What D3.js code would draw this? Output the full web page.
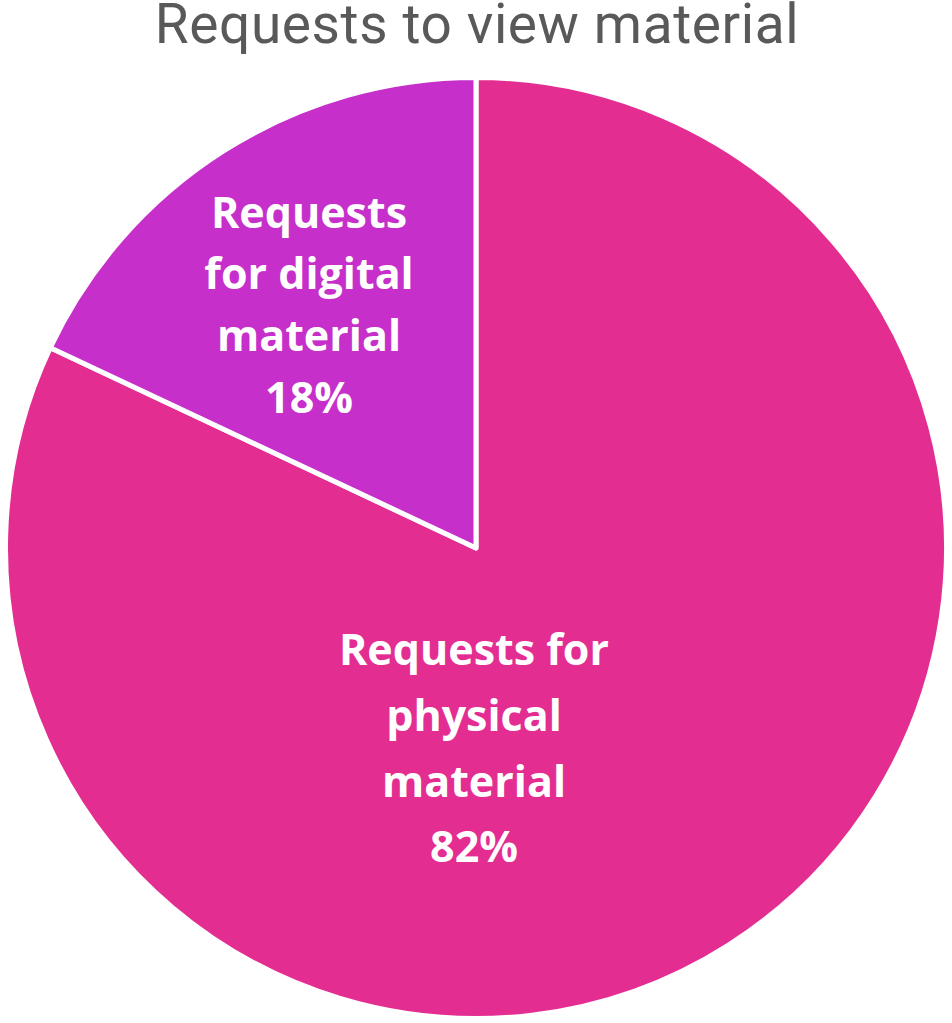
<!DOCTYPE html>
<html><head><meta charset="utf-8">
<script src="https://cdn.jsdelivr.net/npm/d3@7"></script>
<style>body{margin:0;background:#fff}svg{display:block}</style>
</head><body>
<svg id="c" width="952" height="1023"></svg>
<script>
const title = "Requests to view material";
const categories = ["Requests for physical material", "Requests for digital material"];
const values = [82, 18];
const labelLines = [["Requests for","physical","material","82%"],["Requests","for digital","material","18%"]];
const colors = ["#E32D91", "#C62FCA"];

const svg = d3.select("#c");
const cx = 476, cy = 548, R = 470.5;
svg.append("text").attr("x", 477).attr("y", 43).attr("text-anchor","middle")
  .attr("font-family","Roboto,'Liberation Sans',sans-serif")
  .attr("font-size", 55).attr("letter-spacing", 0.6).attr("fill","#595959").text(title);

const pie = d3.pie().sort(null).value(d=>d).startAngle(0).endAngle(2*Math.PI);
const arcs = pie(values);
const arc = d3.arc().innerRadius(0).outerRadius(R);
const g = svg.append("g").attr("transform",`translate(${cx},${cy})`);
g.selectAll("path").data(arcs).join("path").attr("d",arc)
  .attr("fill",(d,i)=>colors[i]).attr("stroke","#fff").attr("stroke-width",5).attr("stroke-linejoin","round");

const anchors = [[-2, 200.6], [-167, -243]];
const lh = [65.7, 61.7];
arcs.forEach((a,i)=>{
  const lines = labelLines[i];
  const [ax, ay] = anchors[i];
  const t = g.append("text").attr("text-anchor","middle")
    .attr("font-family","'Open Sans','Noto Sans',sans-serif").attr("font-weight","bold")
    .attr("font-size", 43).attr("fill","#fff");
  lines.forEach((l,j)=>{
    t.append("tspan").attr("x",ax).attr("y", ay + (j-(lines.length-1)/2)*lh[i]).attr("dy","0.35em").text(l);
  });
});
</script>
</body></html>
